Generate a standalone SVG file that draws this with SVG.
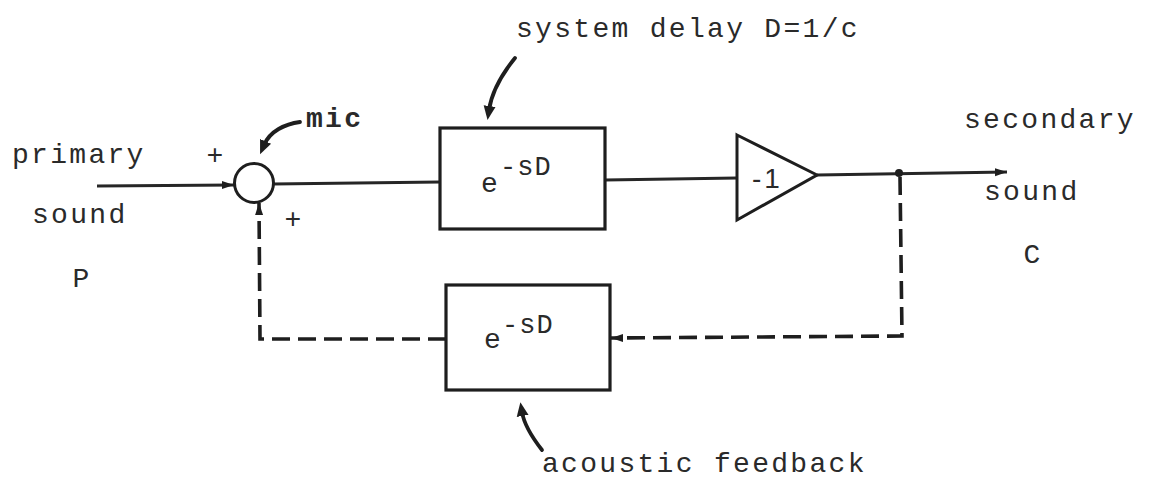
<svg xmlns="http://www.w3.org/2000/svg" width="1152" height="495" viewBox="0 0 1152 495">
  <style>
    .txt { font-family: "Liberation Mono", "DejaVu Sans Mono", monospace; font-size: 28px; fill: #2a2a2a; letter-spacing: 2.3px; }
    .bold { font-weight: bold; }
    .box { fill: none; stroke: #1e1e1e; stroke-width: 3.2; }
    .line { fill: none; stroke: #262626; stroke-width: 2.8; }
    .dash { fill: none; stroke: #1e1e1e; stroke-width: 3.6; stroke-dasharray: 18 8; }
    .ptr { fill: none; stroke: #1e1e1e; stroke-width: 3.8; stroke-linecap: round; }
    .sup { font-family: "Liberation Mono", "DejaVu Sans Mono", monospace; font-size: 27px; fill: #2a2a2a; letter-spacing: 1px; }
    .gain { font-family: "Liberation Sans", Arial, sans-serif; font-size: 28px; fill: #2a2a2a; letter-spacing: 3px; }
  </style>
  <defs>
    <marker id="arr" markerUnits="userSpaceOnUse" markerWidth="14" markerHeight="10" refX="12" refY="5" orient="auto">
      <path d="M0,1 L12,5 L0,9 Z" fill="#1e1e1e"/>
    </marker>
    <marker id="ptrhead" markerUnits="userSpaceOnUse" markerWidth="16" markerHeight="14" refX="4" refY="7" orient="auto">
      <path d="M0,1 L14,7 L0,13 Z" fill="#1e1e1e"/>
    </marker>
  </defs>
  <rect width="1152" height="495" fill="#ffffff"/>

  <g id="connectors">
    <line class="line" x1="97" y1="186" x2="234" y2="185" marker-end="url(#arr)"/>
    <line class="line" x1="273" y1="184" x2="440" y2="182"/>
    <line class="line" x1="605" y1="180" x2="737" y2="178"/>
    <line class="line" x1="817" y1="175" x2="1007" y2="172" marker-end="url(#arr)"/>
    <circle cx="899" cy="173" r="4" fill="#1e1e1e"/>
    <path class="dash" d="M900,177 L902,336 L611,338" marker-end="url(#arr)"/>
    <path class="dash" d="M446,339 L260,339 L259,203" marker-end="url(#arr)"/>
  </g>

  <g id="summer">
    <circle cx="254" cy="183" r="19.5" fill="none" stroke="#1e1e1e" stroke-width="3"/>
    <text class="txt" x="215" y="164" text-anchor="middle" style="letter-spacing:0">+</text>
    <text class="txt" x="293" y="228" text-anchor="middle" style="letter-spacing:0">+</text>
  </g>

  <g id="mic-label">
    <text class="txt bold" x="306" y="127">mic</text>
    <path class="ptr" d="M300,122 C285,124 270,131 264,145" marker-end="url(#ptrhead)"/>
  </g>

  <g id="delay-box">
    <rect class="box" x="440" y="128" width="165" height="101"/>
    <text class="txt" x="481" y="192" style="letter-spacing:0">e</text>
    <text class="sup" x="500" y="175">-sD</text>
  </g>

  <g id="delay-label">
    <text class="txt" x="516" y="37">system delay D=1/c</text>
    <path class="ptr" d="M515,58 C502,74 492,90 489,110" marker-end="url(#ptrhead)"/>
  </g>

  <g id="inverter">
    <path d="M737,135 L817,175 L737,220 Z" fill="none" stroke="#1e1e1e" stroke-width="3"/>
    <text class="gain" x="752" y="188">-1</text>
  </g>

  <g id="feedback-box">
    <rect class="box" x="446" y="285" width="164" height="105"/>
    <text class="txt" x="484" y="348" style="letter-spacing:0">e</text>
    <text class="sup" x="502" y="333">-sD</text>
  </g>

  <g id="feedback-label">
    <text class="txt" x="542" y="472">acoustic feedback</text>
    <path class="ptr" d="M542,450 C531,436 524,424 522,412" marker-end="url(#ptrhead)"/>
  </g>

  <g id="input-label">
    <text class="txt" x="12" y="163">primary</text>
    <text class="txt" x="32" y="223">sound</text>
    <text class="txt" x="81" y="287" text-anchor="middle" style="letter-spacing:0">P</text>
  </g>

  <g id="output-label">
    <text class="txt" x="964" y="128">secondary</text>
    <text class="txt" x="984" y="200">sound</text>
    <text class="txt" x="1032" y="263" text-anchor="middle" style="letter-spacing:0">C</text>
  </g>
</svg>
